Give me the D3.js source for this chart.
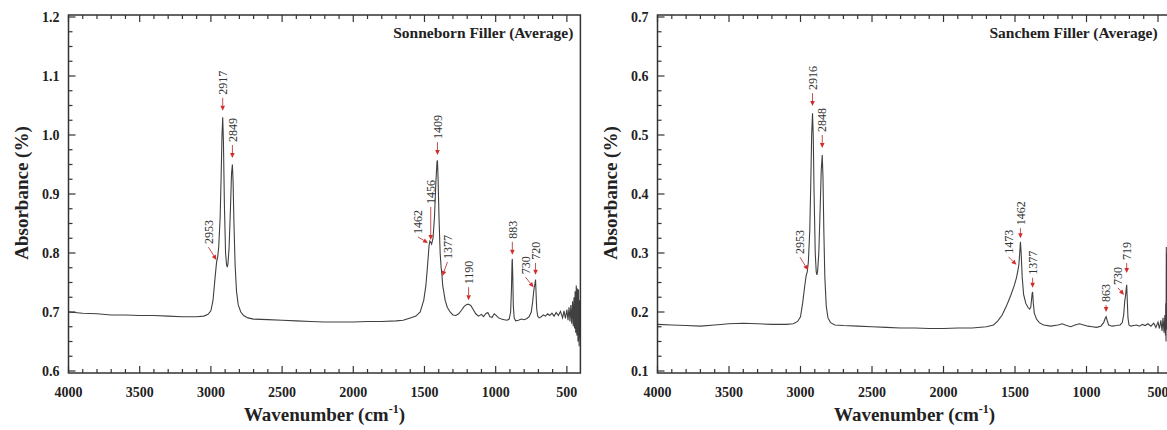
<!DOCTYPE html>
<html>
<head>
<meta charset="utf-8">
<script src="https://cdn.jsdelivr.net/npm/d3@7"></script>
<style>
  body { margin: 0; background: #fff; }
  text { font-family: "Liberation Serif", "Times New Roman", serif; }
</style>
</head>
<body>
<script>
// FTIR spectra (wavenumber in cm-1, absorbance)
var sonneWave = [4000,3900,3800,3700,3600,3500,3400,3300,3200,3100,3050,3020,3000,2985,2970,2960,2953,2945,2935,2928,2922,2917,2912,2905,2897,2890,2885,2880,2872,2862,2855,2849,2844,2838,2830,2820,2808,2790,2770,2740,2700,2600,2500,2400,2300,2200,2100,2000,1900,1800,1700,1650,1600,1560,1530,1505,1490,1478,1468,1462,1456,1450,1440,1430,1420,1412,1409,1405,1398,1390,1383,1377,1372,1365,1355,1340,1320,1300,1280,1260,1240,1220,1200,1190,1175,1160,1140,1120,1100,1085,1070,1055,1040,1025,1010,995,980,960,940,920,905,895,889,885,883,880,876,870,860,840,820,800,780,765,750,740,733,729,724,720,716,712,705,695,680,665,650,635,620,605,590,575,560,545,530,520,510,500,492,485,478,472,466,460,455,450,446,442,438,434,430,426,422,418,414,410,405];
var sonneAbs = [0.700,0.698,0.697,0.695,0.695,0.694,0.694,0.693,0.692,0.692,0.693,0.696,0.702,0.720,0.760,0.785,0.792,0.810,0.860,0.930,1.000,1.030,0.990,0.880,0.800,0.780,0.776,0.782,0.810,0.880,0.935,0.950,0.920,0.850,0.780,0.735,0.712,0.700,0.694,0.690,0.688,0.687,0.686,0.685,0.684,0.683,0.683,0.683,0.684,0.684,0.685,0.686,0.690,0.693,0.700,0.720,0.745,0.780,0.812,0.820,0.818,0.815,0.825,0.860,0.920,0.955,0.957,0.930,0.860,0.800,0.775,0.762,0.745,0.735,0.720,0.708,0.700,0.695,0.694,0.697,0.703,0.710,0.713,0.713,0.711,0.705,0.697,0.693,0.696,0.692,0.697,0.699,0.692,0.691,0.697,0.694,0.690,0.688,0.687,0.686,0.688,0.700,0.740,0.785,0.790,0.760,0.710,0.690,0.685,0.686,0.688,0.687,0.689,0.692,0.700,0.718,0.735,0.742,0.748,0.755,0.730,0.705,0.693,0.690,0.692,0.695,0.693,0.697,0.694,0.698,0.693,0.699,0.694,0.701,0.690,0.702,0.689,0.704,0.686,0.708,0.684,0.712,0.680,0.718,0.676,0.725,0.672,0.735,0.665,0.745,0.660,0.740,0.650,0.738,0.642,0.720,0.655,0.705,0.690];

var sanchemWave = [4000,3900,3800,3700,3600,3500,3400,3300,3200,3100,3050,3020,3000,2985,2970,2960,2953,2945,2935,2928,2922,2916,2911,2905,2897,2890,2885,2880,2872,2862,2855,2848,2843,2837,2830,2820,2808,2790,2760,2700,2600,2500,2400,2300,2200,2100,2000,1900,1800,1700,1650,1620,1590,1560,1530,1505,1490,1480,1473,1467,1462,1457,1450,1440,1425,1410,1398,1390,1384,1380,1377,1372,1365,1350,1330,1300,1250,1200,1170,1140,1110,1080,1050,1020,990,960,930,900,880,870,863,856,845,820,790,765,750,740,733,728,722,719,715,710,703,690,670,650,630,610,590,570,550,530,515,500,490,480,472,465,458,452,448,446,444,442,440,436,432,428,424,420,416,410,405];
var sanchemAbs = [0.179,0.178,0.177,0.176,0.178,0.180,0.181,0.180,0.179,0.179,0.180,0.184,0.192,0.215,0.245,0.262,0.268,0.285,0.340,0.420,0.500,0.537,0.500,0.400,0.300,0.268,0.263,0.270,0.300,0.380,0.440,0.466,0.430,0.340,0.260,0.210,0.190,0.182,0.178,0.177,0.176,0.175,0.174,0.173,0.173,0.172,0.172,0.173,0.173,0.175,0.178,0.185,0.195,0.210,0.228,0.245,0.258,0.270,0.280,0.300,0.319,0.300,0.260,0.230,0.215,0.208,0.205,0.208,0.222,0.232,0.234,0.215,0.198,0.188,0.182,0.178,0.176,0.178,0.180,0.177,0.175,0.178,0.180,0.178,0.176,0.175,0.174,0.176,0.182,0.189,0.192,0.186,0.178,0.176,0.177,0.178,0.182,0.195,0.218,0.226,0.240,0.246,0.220,0.190,0.178,0.176,0.177,0.178,0.176,0.179,0.177,0.180,0.176,0.181,0.174,0.183,0.172,0.186,0.168,0.190,0.165,0.195,0.160,0.215,0.150,0.310,0.170,0.300,0.160,0.240,0.170,0.220,0.150,0.200,0.175,0.180];

// peak annotations: label, tip wavenumber, tip absorbance
var sonneLabels = ["2953","2917","2849","1462","1456","1409","1377","1190","883","730","720"];
var sonneTipWave = [2961,2917,2849,1475,1456,1409,1374,1190,883,734,720];
var sonneTipAbs = [0.788,1.041,0.961,0.817,0.822,0.966,0.761,0.720,0.797,0.742,0.763];

var sanchemLabels = ["2953","2916","2848","1473","1462","1377","863","730","719"];
var sanchemTipWave = [2948,2916,2848,1490,1462,1377,863,738,719];
var sanchemTipAbs = [0.271,0.549,0.478,0.280,0.325,0.241,0.200,0.229,0.266];

// arrow layout per label: [dx, dy] of arrow start from tip; text sits above the start
var sonneArrows = [[-8,-13],[0,-13],[0,-13],[-10,-6],[0,-33],[0,-13],[5,-14],[0,-13],[0,-13],[-8,-10],[0,-12]];
var sanchemArrows = [[-8,-13],[0,-13],[0,-13],[-8,-8],[0,-10],[0,-10],[0,-7],[-6,-7],[0,-10]];

var xMajor = [4000,3500,3000,2500,2000,1500,1000,500];

var panels = [
  { wave: sonneWave, abs: sonneAbs, labels: sonneLabels, tipW: sonneTipWave, tipA: sonneTipAbs, arrows: sonneArrows,
    yDomain: [0.6, 1.2], x0: 68.5, x1: 580.4, title: "Sonneborn Filler (Average)", titlePad: 7, id: "a" },
  { wave: sanchemWave, abs: sanchemAbs, labels: sanchemLabels, tipW: sanchemTipWave, tipA: sanchemTipAbs, arrows: sanchemArrows,
    yDomain: [0.1, 0.7], x0: 657.5, x1: 1171.6, title: "Sanchem Filler (Average)", titlePad: 14, id: "b" }
];

var frameTop = 15, frameBottom = 373;

var svg = d3.select("body").append("svg")
    .attr("width", 1167)
    .attr("height", 430);

panels.forEach(function(p) {
  var x = d3.scaleLinear().domain([4000, 405]).range([p.x0, p.x1]);
  var y = d3.scaleLinear().domain(p.yDomain).range([371, 17]);
  var g = svg.append("g");

  g.append("clipPath").attr("id", "clip" + p.id)
    .append("rect")
      .attr("x", p.x0).attr("y", frameTop)
      .attr("width", p.x1 - p.x0).attr("height", frameBottom - frameTop);

  // spectrum
  var pts = p.wave.map(function(w, i) { return [w, p.abs[i]]; });
  g.append("path")
      .datum(pts)
      .attr("clip-path", "url(#clip" + p.id + ")")
      .attr("fill", "none")
      .attr("stroke", "#404040")
      .attr("stroke-width", 1.1)
      .attr("d", d3.line().x(function(d) { return x(d[0]); }).y(function(d) { return y(d[1]); }));

  // x ticks, bottom and top, pointing inward
  var xt = d3.range(4000, 450, -100);
  xt.forEach(function(w) {
    var len = (w % 500 === 0) ? 7 : 4;
    g.append("line").attr("x1", x(w)).attr("x2", x(w))
      .attr("y1", frameBottom).attr("y2", frameBottom - len)
      .attr("stroke", "#333").attr("stroke-width", 1.2);
    g.append("line").attr("x1", x(w)).attr("x2", x(w))
      .attr("y1", frameTop).attr("y2", frameTop + len)
      .attr("stroke", "#333").attr("stroke-width", 1.2);
  });
  g.selectAll(".xl").data(xMajor).enter().append("text")
      .attr("x", function(d) { return x(d); })
      .attr("y", frameBottom + 24)
      .attr("text-anchor", "middle")
      .attr("font-size", 14).attr("font-weight", "bold").attr("fill", "#222")
      .text(function(d) { return d; });

  // y ticks
  var yt = d3.range(0, 25).map(function(i) { return +(p.yDomain[0] + i * 0.025).toFixed(3); });
  yt.forEach(function(v, i) {
    var len = (i % 4 === 0) ? 7 : 4;
    g.append("line").attr("x1", p.x0).attr("x2", p.x0 + len)
      .attr("y1", y(v)).attr("y2", y(v))
      .attr("stroke", "#333").attr("stroke-width", 1.2);
  });
  var ymaj = yt.filter(function(v, i) { return i % 4 === 0; });
  g.selectAll(".yl").data(ymaj).enter().append("text")
      .attr("x", p.x0 - 9)
      .attr("y", function(d) { return y(d); })
      .attr("dy", "0.35em")
      .attr("text-anchor", "end")
      .attr("font-size", 14).attr("font-weight", "bold").attr("fill", "#222")
      .text(function(d) { return d.toFixed(1); });

  // frame
  g.append("rect")
      .attr("x", p.x0).attr("y", frameTop)
      .attr("width", p.x1 - p.x0).attr("height", frameBottom - frameTop)
      .attr("fill", "none").attr("stroke", "#333").attr("stroke-width", 1.5);

  // axis titles
  g.append("text")
      .attr("transform", "translate(" + (p.x0 - 47) + "," + 193 + ") rotate(-90)")
      .attr("text-anchor", "middle").attr("dy", "0.35em")
      .attr("font-size", 19).attr("font-weight", "bold").attr("fill", "#222")
      .text("Absorbance (%)");
  var xt2 = g.append("text")
      .attr("x", (p.x0 + p.x1) / 2).attr("y", 421)
      .attr("text-anchor", "middle")
      .attr("font-size", 19).attr("font-weight", "bold").attr("fill", "#222");
  xt2.append("tspan").text("Wavenumber (cm");
  xt2.append("tspan").attr("dy", -8).attr("font-size", 12).text("-1");
  xt2.append("tspan").attr("dy", 8).text(")");

  // panel title
  g.append("text")
      .attr("x", p.x1 - p.titlePad).attr("y", 38)
      .attr("text-anchor", "end")
      .attr("font-size", 15.5).attr("font-weight", "bold").attr("fill", "#222")
      .text(p.title);

  // peak annotations
  p.labels.forEach(function(lab, i) {
    var tx = x(p.tipW[i]), ty = y(p.tipA[i]);
    var sx = tx + p.arrows[i][0], sy = ty + p.arrows[i][1];
    var ang = Math.atan2(ty - sy, tx - sx);
    var hx = tx - 5 * Math.cos(ang), hy = ty - 5 * Math.sin(ang);
    g.append("line")
        .attr("x1", sx).attr("y1", sy).attr("x2", hx).attr("y2", hy)
        .attr("stroke", "#c05050").attr("stroke-width", 1);
    var px = -Math.sin(ang) * 2.3, py = Math.cos(ang) * 2.3;
    g.append("path")
        .attr("d", "M" + tx + "," + ty + "L" + (hx + px) + "," + (hy + py) + "L" + (hx - px) + "," + (hy - py) + "Z")
        .attr("fill", "#d42a2a");
    g.append("text")
        .attr("transform", "translate(" + sx + "," + (sy - 3) + ") rotate(-90)")
        .attr("dy", "0.35em")
        .attr("font-size", 12).attr("fill", "#333")
        .text(lab);
  });
});
</script>
</body>
</html>
